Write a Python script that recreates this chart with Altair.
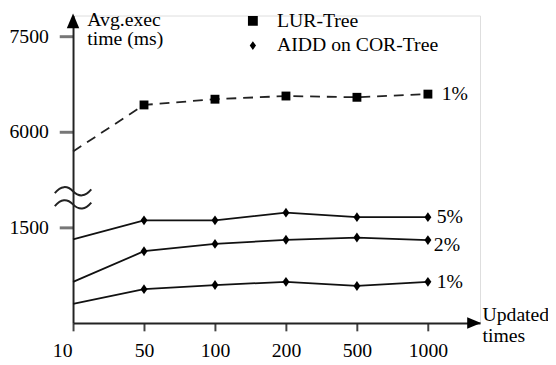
import altair as alt
import pandas as pd

# ---- data ----
x_labels = ["10", "50", "100", "200", "500", "1000"]
lur_1 = [5690, 6420, 6510, 6560, 6540, 6590]
aidd_5 = [1310, 1610, 1610, 1730, 1660, 1660]
aidd_2 = [645, 1125, 1240, 1305, 1340, 1300]
aidd_1 = [300, 530, 595, 645, 580, 645]
methods = ["LUR-Tree", "AIDD on COR-Tree"]
series_ids = ["LUR 1%", "AIDD 5%", "AIDD 2%", "AIDD 1%"]
series_labels = ["1%", "5%", "2%", "1%"]
series_methods = [methods[0], methods[1], methods[1], methods[1]]
y_ticks_real = [1500, 6000, 7500]
BREAK = 3000  # amount cut out of the y axis above the break

rows = []
for sid, lab, meth, vals in zip(series_ids, series_labels, series_methods,
                                [lur_1, aidd_5, aidd_2, aidd_1]):
    for i, (xl, v) in enumerate(zip(x_labels, vals)):
        rows.append(dict(series=sid, label=lab, method=meth, x=xl, idx=i, value=v))
df = pd.DataFrame(rows)

FONT = "'Liberation Serif', 'Times New Roman', 'DejaVu Serif', serif"
W, H = 413, 312
Y_TOP = 4823

base = alt.Chart(df).transform_calculate(
    disp=f"datum.value > {BREAK} ? datum.value - {BREAK} : datum.value"
)

y_tick_disp = [v - BREAK if v > BREAK else v for v in y_ticks_real]

x_enc = alt.X(
    "x:O", sort=x_labels,
    scale=alt.Scale(type="point", padding=0.367, align=0),
    axis=alt.Axis(
        labelAngle=0, labelFont=FONT, labelFontSize=20, labelColor="black",
        labelPadding=10, labelOffset={"expr": "datum.value === '10' ? -11 : 0"},
        domainColor="#222", domainWidth=2, tickColor="#444", tickWidth=2, tickSize=8,
        grid=False,
        title=["Updated", "times"], titleFont=FONT, titleFontSize=20,
        titleFontWeight="normal", titleColor="black", titleAlign="left",
        titleBaseline="top", titleAngle=0, titleX=415, titleY=-18, titleLineHeight=21,
    ),
)
y_enc = alt.Y(
    "disp:Q",
    scale=alt.Scale(domain=[0, Y_TOP], nice=False, zero=False),
    axis=alt.Axis(
        values=y_tick_disp,
        labelExpr=f"datum.value > {BREAK} - 1 ? format(datum.value + {BREAK}, 'd') : format(datum.value, 'd')",
        labelFont=FONT, labelFontSize=20, labelColor="black", labelPadding=11,
        domainColor="#222", domainWidth=2, tickColor="#777", tickWidth=3, tickSize=14,
        grid=False,
        title=["Avg.exec", "time (ms)"], titleFont=FONT, titleFontSize=20,
        titleFontWeight="normal", titleColor="black", titleAlign="left",
        titleBaseline="top", titleAngle=0, titleX=14, titleY=-6, titleLineHeight=19,
    ),
)

lur_line = base.transform_filter(f"datum.method == '{methods[0]}'").mark_line(
    strokeWidth=1.8, color="#222", strokeDash=[10, 7]
).encode(x=x_enc, y=y_enc, detail="series:N")
aidd_lines = base.transform_filter(f"datum.method == '{methods[1]}'").mark_line(
    strokeWidth=1.8, color="#111"
).encode(x=x_enc, y=y_enc, detail="series:N")

lur_pts = base.transform_filter(f"datum.idx > 0 && datum.method == '{methods[0]}'").mark_point(
    filled=True, color="black", opacity=1, shape="square", size=81
).encode(x=x_enc, y=y_enc)

dia = "M0,-1L0.7,0L0,1L-0.7,0Z"
aidd_pts = base.transform_filter(f"datum.idx > 0 && datum.method == '{methods[1]}'").mark_point(
    filled=True, color="black", opacity=1, shape=dia, size=100
).encode(x=x_enc, y=y_enc)

leg_sq = "M-1,0L1,0M-0.25,-0.25L0.25,-0.25L0.25,0.25L-0.25,0.25Z"
leg_dia = "M-1,0L1,0M0,-0.22L0.16,0L0,0.22L-0.16,0Z"
legend_layer = base.mark_point(filled=True, fill="black", stroke="#333", strokeWidth=2.5, opacity=0).encode(
    x=x_enc, y=y_enc,
    shape=alt.Shape("method:N", scale=alt.Scale(domain=methods, range=[leg_sq, leg_dia]),
                    legend=alt.Legend(
                        orient="none", legendX=161, legendY=-7, title=None, padding=0,
                        labelFont=FONT, labelFontSize=20, labelColor="black", labelOffset=3,
                        labelLimit=400,
                        symbolSize=1600, symbolFillColor="black", symbolStrokeColor="#333",
                        symbolStrokeWidth=2.5, symbolOpacity=1, clipHeight=25, rowPadding=0,
                    )),
)

last = f"datum.idx == {len(x_labels) - 1}"
txt_kw = dict(font=FONT, fontSize=20, color="black", align="left", baseline="middle")
lab_lur = base.transform_filter(f"{last} && datum.series == '{series_ids[0]}'").mark_text(dx=14, **txt_kw).encode(
    x=x_enc, y=y_enc, text="label:N")
lab_a = base.transform_filter(
    f"{last} && (datum.series == '{series_ids[1]}' || datum.series == '{series_ids[3]}')"
).mark_text(dx=9, **txt_kw).encode(x=x_enc, y=y_enc, text="label:N")
lab_a2 = base.transform_filter(f"{last} && datum.series == '{series_ids[2]}'").mark_text(dx=6, dy=5, **txt_kw).encode(
    x=x_enc, y=y_enc, text="label:N")

one = alt.Chart(alt.Data(values=[{"k": 1}]))
arrow_y = one.mark_point(filled=True, color="black", opacity=1, shape="M0,0L-0.42,1L0.42,1Z", size=900).encode(
    x=alt.value(0), y=alt.value(-2))
arrow_x = one.mark_point(filled=True, color="black", opacity=1, shape="M0,0L-1,-0.42L-1,0.42Z", size=784).encode(
    x=alt.value(W + 1), y=alt.value(H))
wave = ("M-1,-0.26Q-0.5,-0.86 0,-0.36T1,-0.46"
        "M-1,0.46Q-0.5,-0.14 0,0.36T1,0.26")
brk = one.mark_point(filled=False, color="#222", strokeWidth=2, opacity=1, shape=wave, size=1369).encode(
    x=alt.value(0), y=alt.value(185))

chart = alt.layer(
    lur_line, aidd_lines, lur_pts, aidd_pts, legend_layer, lab_lur, lab_a, lab_a2, arrow_y, arrow_x, brk
).properties(
    width=W, height=H,
    autosize=alt.AutoSizeParams(type="none"),
    padding={"left": 66, "top": 5, "right": 69, "bottom": 37},
).configure_view(strokeWidth=0, stroke="transparent").configure(
    background="white", font=FONT
).configure_axis(titleFont=FONT, labelFont=FONT, titleFontWeight="normal")

chart.save("out.html", embed_options={"renderer": "svg", "actions": False})
